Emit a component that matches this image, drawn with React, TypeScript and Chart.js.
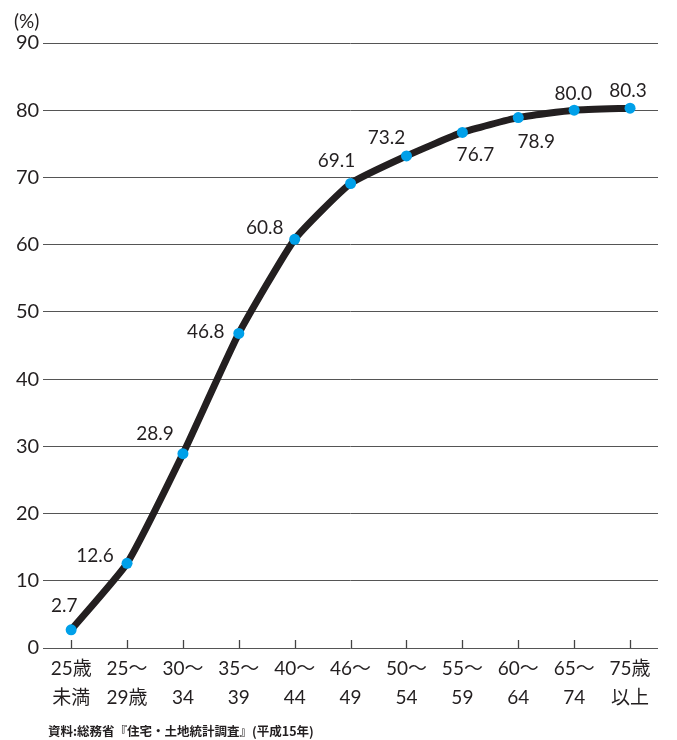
import React, { useEffect, useRef } from "react";
import { Chart, registerables } from "chart.js";

Chart.register(...registerables);

const categories: string[][] = [
  ["25歳", "未満"],
  ["25〜", "29歳"],
  ["30〜", "34"],
  ["35〜", "39"],
  ["40〜", "44"],
  ["46〜", "49"],
  ["50〜", "54"],
  ["55〜", "59"],
  ["60〜", "64"],
  ["65〜", "74"],
  ["75歳", "以上"],
];
const values: number[] = [2.7, 12.6, 28.9, 46.8, 60.8, 69.1, 73.2, 76.7, 78.9, 80.0, 80.3];
const valueLabels: string[] = ["2.7", "12.6", "28.9", "46.8", "60.8", "69.1", "73.2", "76.7", "78.9", "80.0", "80.3"];
const labelOffsets: [number, number][] = [
  [-7, -24], [-32, -7], [-28, -20], [-33, -2], [-30, -11], [-14, -23],
  [-20, -18], [13, 22], [18, 24], [-1, -16], [-2, -17],
];
const unitLabel = "(%)";
const sourceNote = "資料:総務省『住宅・土地統計調査』(平成15年)";

const FONT = 'Lato, "Noto Sans CJK JP", sans-serif';
const INK = "#231f20";

export default function App() {
  const ref = useRef<HTMLCanvasElement | null>(null);
  useEffect(() => {
    document.body.style.margin = "0";
    const canvas = ref.current!;
    const overlay = {
      id: "overlay",
      afterDatasetsDraw(chart: any) {
        const ctx = chart.ctx;
        const x = chart.scales.x;
        const area = chart.chartArea;
        ctx.save();
        ctx.strokeStyle = "#444";
        ctx.lineWidth = 1.3;
        categories.forEach((_, i) => {
          const px = Math.round(x.getPixelForValue(i)) + 0.5;
          ctx.beginPath();
          ctx.moveTo(px, area.bottom);
          ctx.lineTo(px, area.bottom - 8);
          ctx.stroke();
        });
        const meta = chart.getDatasetMeta(0);
        ctx.fillStyle = INK;
        ctx.font = `19px ${FONT}`;
        ctx.textAlign = "center";
        ctx.textBaseline = "middle";
        meta.data.forEach((pt: any, i: number) => {
          const [dx, dy] = labelOffsets[i];
          ctx.fillText(valueLabels[i], pt.x + dx, pt.y + dy);
        });
        ctx.font = `19px ${FONT}`;
        ctx.textAlign = "left";
        ctx.fillText(unitLabel, 14, 22);
        ctx.font = `bold 12.5px "Noto Sans CJK JP", sans-serif`;
        ctx.fillText(sourceNote, 48, 731);
        ctx.restore();
      },
    };
    const chart = new Chart(canvas, {
      type: "line",
      data: {
        labels: categories,
        datasets: [
          {
            data: values,
            borderColor: INK,
            borderWidth: 7,
            tension: 0.15,
            pointRadius: 5.5,
            pointBackgroundColor: "#00a0e9",
            pointBorderWidth: 0,
            borderCapStyle: "round",
            borderJoinStyle: "round",
            fill: false,
          },
        ],
      },
      options: {
        animation: false,
        responsive: false,
        maintainAspectRatio: false,
        layout: { padding: { top: 43, right: 19, bottom: 21, left: 12 } },
        plugins: { legend: { display: false }, tooltip: { enabled: false } },
        scales: {
          x: {
            offset: true,
            grid: { display: false, drawTicks: false },
            border: { display: false },
            ticks: {
              color: INK,
              font: { size: 19, family: FONT, lineHeight: 1.5 },
              padding: 7,
              maxRotation: 0,
              autoSkip: false,
            },
          },
          y: {
            min: 0,
            max: 90,
            grid: { color: "#555", lineWidth: 1, drawTicks: false },
            border: { display: false },
            ticks: {
              stepSize: 10,
              color: INK,
              font: { size: 20, family: FONT },
              padding: 4,
            },
          },
        },
      },
      plugins: [overlay],
    } as any);
    return () => chart.destroy();
  }, []);
  return <canvas ref={ref} width={677} height={740} style={{ display: "block" }} />;
}
